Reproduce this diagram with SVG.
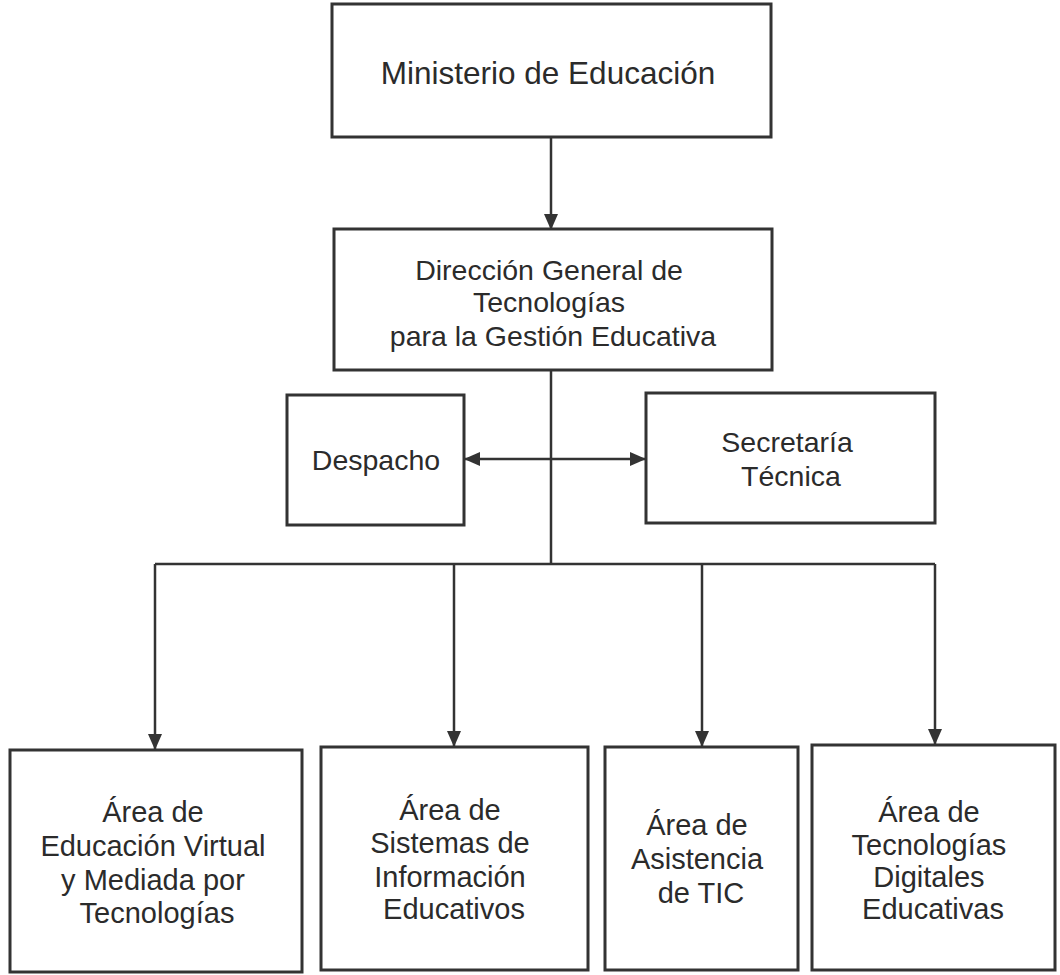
<svg xmlns="http://www.w3.org/2000/svg" width="1060" height="975" viewBox="0 0 1060 975">
  <style>
    .box { fill: #ffffff; stroke: #333333; stroke-width: 3; }
    .lbl { font-family: "Liberation Sans", Arial, sans-serif; fill: #2b2b2b; text-anchor: middle; }
    .conn { fill: none; stroke: #333333; stroke-width: 2.5; }
  </style>
  <defs>
    <marker id="arr" markerUnits="userSpaceOnUse" markerWidth="16" markerHeight="14" refX="15" refY="7" orient="auto-start-reverse">
      <path d="M0,0 L16,7 L0,14 Z" fill="#333333"/>
    </marker>
  </defs>
  <rect width="1060" height="975" fill="#ffffff"/>

  <g id="connectors">
    <line class="conn" x1="551" y1="138" x2="551" y2="229" marker-end="url(#arr)"/>
    <line class="conn" x1="551" y1="371" x2="551" y2="564"/>
    <line class="conn" x1="465" y1="459" x2="645" y2="459" marker-start="url(#arr)" marker-end="url(#arr)"/>
    <line class="conn" x1="155" y1="564" x2="935" y2="564"/>
    <line class="conn" x1="155" y1="564" x2="155" y2="749" marker-end="url(#arr)"/>
    <line class="conn" x1="454" y1="564" x2="454" y2="746" marker-end="url(#arr)"/>
    <line class="conn" x1="702" y1="564" x2="702" y2="746" marker-end="url(#arr)"/>
    <line class="conn" x1="935" y1="564" x2="935" y2="744" marker-end="url(#arr)"/>
  </g>

  <g id="ministerio">
    <rect class="box" x="332" y="4" width="439" height="133"/>
    <text class="lbl" x="548" y="84" font-size="31.5">Ministerio de Educación</text>
  </g>

  <g id="direccion">
    <rect class="box" x="334" y="229" width="438" height="141"/>
    <text class="lbl" font-size="28.5">
      <tspan x="553" y="280">Dirección General de</tspan>
      <tspan x="553" y="312">Tecnologías</tspan>
      <tspan x="553" y="346">para la Gestión Educativa</tspan>
    </text>
  </g>

  <g id="despacho">
    <rect class="box" x="287" y="395" width="177" height="130"/>
    <text class="lbl" x="376" y="470" font-size="28.5">Despacho</text>
  </g>

  <g id="secretaria">
    <rect class="box" x="646" y="393" width="289" height="130"/>
    <text class="lbl" font-size="28.5">
      <tspan x="791" y="452">Secretaría</tspan>
      <tspan x="791" y="486">Técnica</tspan>
    </text>
  </g>

  <g id="area-educacion-virtual">
    <rect class="box" x="10" y="750" width="292" height="222"/>
    <text class="lbl" font-size="29">
      <tspan x="157" y="822">Área de</tspan>
      <tspan x="157" y="856">Educación Virtual</tspan>
      <tspan x="157" y="890">y Mediada por</tspan>
      <tspan x="157" y="923">Tecnologías</tspan>
    </text>
  </g>

  <g id="area-sistemas">
    <rect class="box" x="321" y="747" width="267" height="223"/>
    <text class="lbl" font-size="29">
      <tspan x="454" y="820">Área de</tspan>
      <tspan x="454" y="853">Sistemas de</tspan>
      <tspan x="454" y="887">Información</tspan>
      <tspan x="454" y="919">Educativos</tspan>
    </text>
  </g>

  <g id="area-asistencia">
    <rect class="box" x="605" y="747" width="193" height="223"/>
    <text class="lbl" font-size="29">
      <tspan x="701" y="835">Área de</tspan>
      <tspan x="701" y="869">Asistencia</tspan>
      <tspan x="701" y="903">de TIC</tspan>
    </text>
  </g>

  <g id="area-tecnologias-digitales">
    <rect class="box" x="812" y="745" width="243" height="225"/>
    <text class="lbl" font-size="29">
      <tspan x="933" y="822">Área de</tspan>
      <tspan x="933" y="855">Tecnologías</tspan>
      <tspan x="933" y="887">Digitales</tspan>
      <tspan x="933" y="919">Educativas</tspan>
    </text>
  </g>
</svg>
